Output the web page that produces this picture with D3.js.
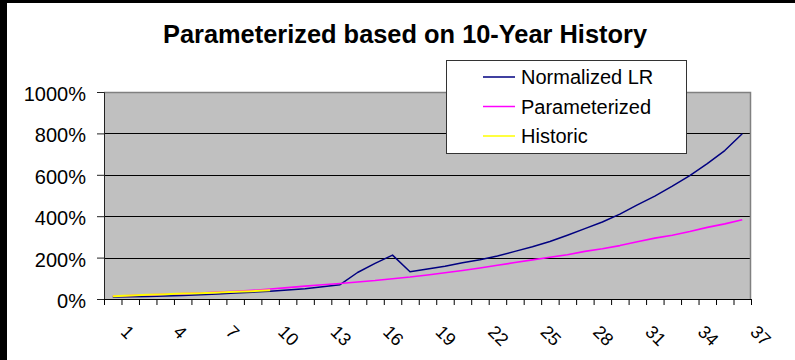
<!DOCTYPE html>
<html>
<head>
<meta charset="utf-8">
<script src="https://cdn.jsdelivr.net/npm/d3@7"></script>
<style>
  html, body { margin: 0; padding: 0; background: #fff; }
  svg { display: block; font-family: "Liberation Sans", Arial, sans-serif; }
</style>
</head>
<body>
<svg id="chart" width="795" height="360"></svg>
<script>
// Period index along the horizontal axis
const categories = [1,2,3,4,5,6,7,8,9,10,11,12,13,14,15,16,17,18,19,20,21,22,23,24,25,26,27,28,29,30,31,32,33,34,35,36,37];
const xTickLabels = [1,4,7,10,13,16,19,22,25,28,31,34,37];

// Loss ratio series, in percent
const normalizedLR = [10,11,12,14,17,20,24,29,33,37,43,50,59,69,128,172,212,132,145,158,175,190,208,230,252,278,308,340,372,410,455,497,545,596,654,717,798];
const parameterized = [13,17,20,23,26,29,33,37,42,48,55,62,69,75,82,89,98,106,116,127,138,150,163,176,189,202,214,230,243,258,277,294,308,326,346,363,383];
const historic = [13,17,20,23,26,28,31,35,38,42];

const yTicks = [0,200,400,600,800,1000];

const series = [
  { name: "Normalized LR", values: normalizedLR, color: "#000080", width: 1.5 },
  { name: "Parameterized", values: parameterized, color: "#ff00ff", width: 1.6 },
  { name: "Historic", values: historic, color: "#ffff00", width: 2 }
];

const W = 795, H = 360;
const plot = { left: 104, right: 751, top: 92, bottom: 299 };

const svg = d3.select("#chart");

// page frame
svg.append("rect").attr("x", 0).attr("y", 0).attr("width", W).attr("height", H).attr("fill", "#fff");
svg.append("rect").attr("x", 0).attr("y", 0).attr("width", 7).attr("height", H).attr("fill", "#000");
svg.append("rect").attr("x", 0).attr("y", 0).attr("width", W).attr("height", 3).attr("fill", "#000");

// title
svg.append("text")
  .attr("x", 405).attr("y", 43)
  .attr("text-anchor", "middle")
  .attr("font-size", 25.4).attr("font-weight", "bold")
  .attr("fill", "#000")
  .text("Parameterized based on 10-Year History");

const x = d3.scaleBand().domain(categories).range([plot.left, plot.right]).padding(0);
const xEdges = d3.scaleLinear().domain([0, categories.length]).range([plot.left, plot.right]);
const y = d3.scaleLinear().domain([0, 1000]).range([plot.bottom, plot.top]);
const cx = d => x(d) + x.bandwidth() / 2;

// plot area
svg.append("rect")
  .attr("x", plot.left).attr("y", plot.top)
  .attr("width", plot.right - plot.left).attr("height", plot.bottom - plot.top)
  .attr("fill", "#c0c0c0");

// gridlines
svg.append("g").selectAll("line")
  .data(yTicks.filter(t => t > 0 && t < 1000))
  .join("line")
  .attr("x1", plot.left).attr("x2", plot.right)
  .attr("y1", d => Math.round(y(d)) + 0.5).attr("y2", d => Math.round(y(d)) + 0.5)
  .attr("stroke", "#000").attr("stroke-width", 1);

// plot border (top / right)
svg.append("path")
  .attr("d", `M${plot.left},${plot.top + 0.5}H${plot.right - 0.5}V${plot.bottom}`)
  .attr("fill", "none").attr("stroke", "#808080").attr("stroke-width", 1.5);

// y axis
const yAxis = svg.append("g")
  .attr("transform", `translate(${plot.left},0)`)
  .call(d3.axisLeft(y).tickValues(yTicks).tickSize(7).tickPadding(11).tickFormat(d => d + "%"));
yAxis.select(".domain").attr("stroke", "#222");
yAxis.selectAll(".tick line").attr("stroke", "#222");
yAxis.selectAll(".tick text")
  .attr("font-size", 20).attr("fill", "#000")
  .attr("font-family", "'Liberation Sans', Arial, sans-serif")
  .attr("dy", "0.42em");

// x axis: ticks at category boundaries
const xAxis = svg.append("g")
  .attr("transform", `translate(0,${plot.bottom})`)
  .call(d3.axisBottom(xEdges).tickValues(d3.range(0, categories.length + 1)).tickSize(6).tickFormat(""));
xAxis.select(".domain").attr("stroke", "#000");
xAxis.selectAll(".tick line").attr("stroke", "#000");

// x labels, rotated
svg.append("g").selectAll("text")
  .data(xTickLabels)
  .join("text")
  .attr("transform", d => `translate(${cx(d) + 7},${plot.bottom + 34}) rotate(45)`)
  .attr("font-size", 18).attr("fill", "#000")
  .text(d => d);

// series lines
const line = d3.line()
  .x((v, i) => cx(categories[i]))
  .y(v => y(v));

svg.append("g").selectAll("path")
  .data(series)
  .join("path")
  .attr("d", s => line(s.values))
  .attr("fill", "none")
  .attr("stroke", s => s.color)
  .attr("stroke-width", s => s.width)
  .attr("stroke-linejoin", "round");

// legend
const legend = svg.append("g");
legend.append("rect")
  .attr("x", 446.5).attr("y", 60.5).attr("width", 240).attr("height", 93)
  .attr("fill", "#fff").attr("stroke", "#333").attr("stroke-width", 1);
const rows = legend.selectAll("g.row")
  .data(series)
  .join("g")
  .attr("class", "row")
  .attr("transform", (s, i) => `translate(0,${77 + i * 29.5})`);
rows.append("line")
  .attr("x1", 483).attr("x2", 515).attr("y1", 0).attr("y2", 0)
  .attr("stroke", s => s.color).attr("stroke-width", 1.5);
rows.append("text")
  .attr("x", 521).attr("y", 0).attr("dy", "0.36em")
  .attr("font-size", 20).attr("fill", "#000")
  .text(s => s.name);
</script>
</body>
</html>
